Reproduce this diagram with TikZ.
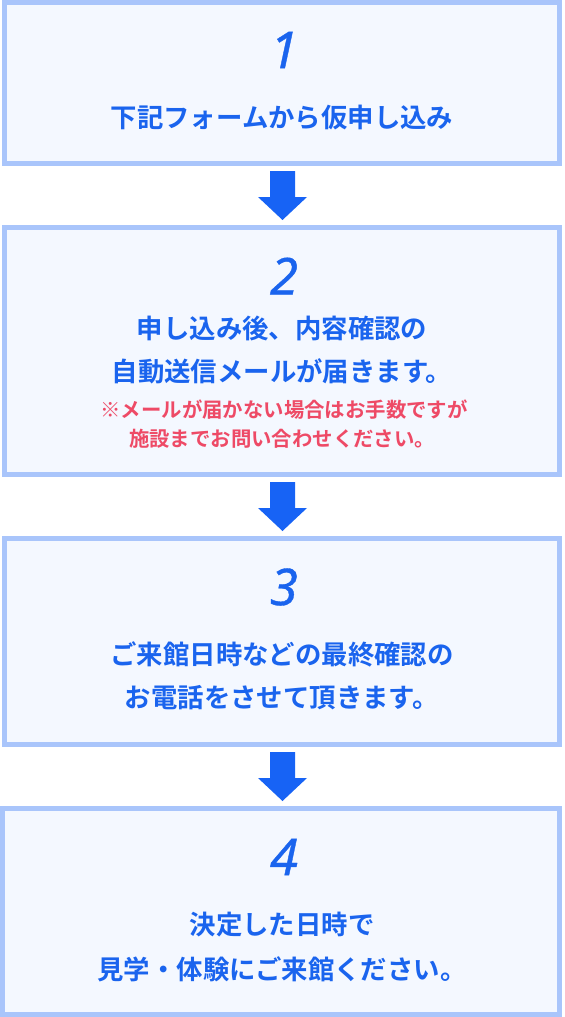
\documentclass[tikz,border=0pt]{standalone}
\usepackage{fontspec}
\newfontfamily\jp{Noto Sans CJK JP}[BoldFont={Noto Sans CJK JP Bold}]
\newfontfamily\numfont{Noto Sans}[FakeBold=0.7]
\definecolor{bordc}{HTML}{A9C5FB}
\definecolor{fillc}{HTML}{F4F8FF}
\definecolor{bluec}{HTML}{1A64EE}
\definecolor{arrc}{HTML}{1763F5}
\definecolor{redc}{HTML}{EE4A66}
\tikzset{
  stepbox/.style={draw=bordc, fill=fillc, line width=3.75pt},
  numtxt/.style={text=bluec, font=\numfont\itshape\fontsize{38}{40}\selectfont, inner sep=0pt},
  maintxt/.style={text=bluec, font=\jp\bfseries\fontsize{19.8}{22}\selectfont, inner sep=0pt},
  notetxt/.style={text=redc, font=\jp\bfseries\fontsize{15.3}{18}\selectfont, inner sep=0pt},
  downarrow/.style={fill=arrc, draw=none}
}
\begin{document}
\begin{tikzpicture}[x=0.75pt,y=-0.75pt]
\useasboundingbox (0,0) rectangle (564,1017);
% boxes
\draw[stepbox] (4.5,2.5) rectangle (559.5,163.5);
\draw[stepbox] (4.5,227.5) rectangle (559.5,474.5);
\draw[stepbox] (4.5,538.5) rectangle (559.5,744.5);
\draw[stepbox] (2.5,808.5) rectangle (559.5,1014.5);
% arrows
\foreach \t in {166,477,747}{
  \fill[downarrow] (270,\t+5) -- (295,\t+5) -- (295,\t+31) -- (307,\t+31)
     -- (282.5,\t+54) -- (258,\t+31) -- (270,\t+31) -- cycle;
}
% box 1
\node[numtxt] (n1) at (284,50) {1};
\node[maintxt] (t1) at (282,118) {下記フォームから仮申し込み};
% box 2
\node[numtxt] (n2) at (284,276) {2};
\node[maintxt] (t2a) at (282,328) {申し込み後、内容確認の};
\node[maintxt] (t2b) at (282,371) {自動送信メールが届きます。};
\node[notetxt] (t2c) at (284,410) {※メールが届かない場合はお手数ですが};
\node[notetxt] (t2d) at (282,439) {施設までお問い合わせください。};
% box 3
\node[numtxt] (n3) at (284,587) {3};
\node[maintxt] (t3a) at (282,654) {ご来館日時などの最終確認の};
\node[maintxt] (t3b) at (282,698) {お電話をさせて頂きます。};
% box 4
\node[numtxt] (n4) at (284,857) {4};
\node[maintxt] (t4a) at (282,925) {決定した日時で};
\node[maintxt] (t4b) at (282,969) {見学・体験にご来館ください。};
\end{tikzpicture}
\end{document}
